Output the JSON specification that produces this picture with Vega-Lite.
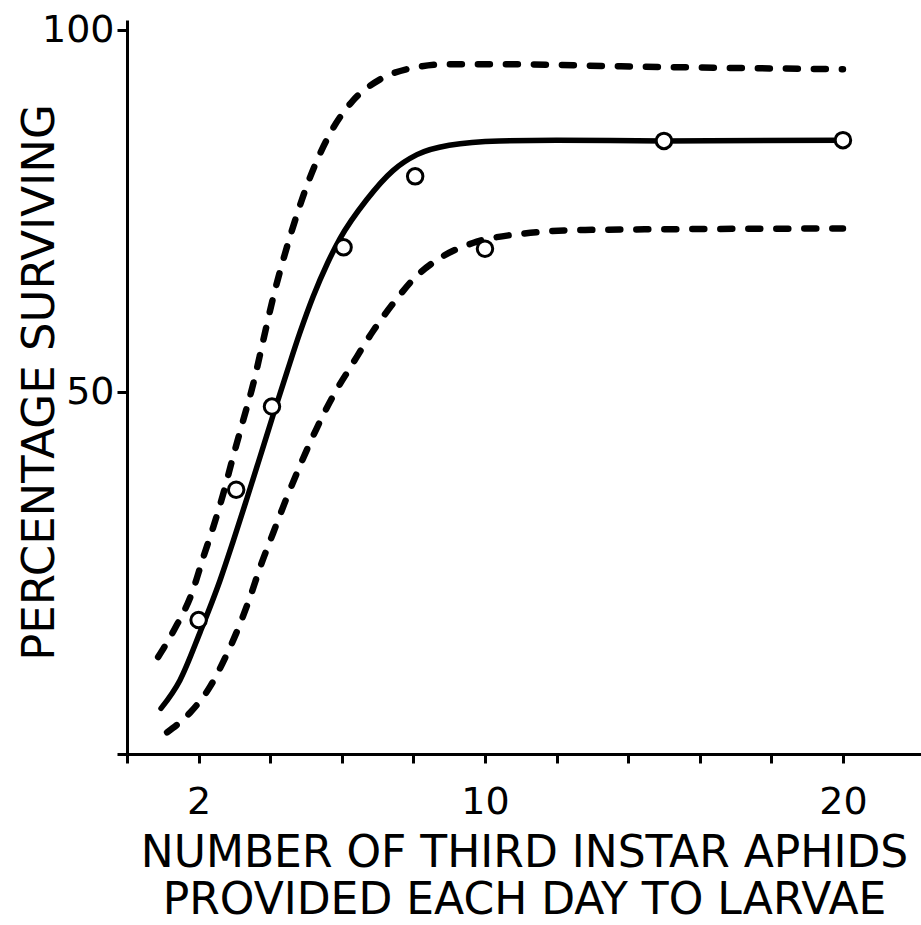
{
  "$schema": "https://vega.github.io/schema/vega-lite/v6.json",
  "autosize": "none",
  "width": 794,
  "height": 734,
  "padding": {"left": 127, "top": 20, "right": 0, "bottom": 171},
  "background": "white",
  "config": {"view": {"stroke": null}},
  "datasets": {
    "curves": [
      {"series": "fit", "x": 0.95, "y": 6.3},
      {"series": "fit", "x": 1.48, "y": 10.2},
      {"series": "fit", "x": 2.04, "y": 16.8},
      {"series": "fit", "x": 2.6, "y": 24.0},
      {"series": "fit", "x": 2.96, "y": 29.3},
      {"series": "fit", "x": 3.35, "y": 35.3},
      {"series": "fit", "x": 3.72, "y": 41.1},
      {"series": "fit", "x": 4.08, "y": 46.8},
      {"series": "fit", "x": 4.47, "y": 52.8},
      {"series": "fit", "x": 4.83, "y": 58.2},
      {"series": "fit", "x": 5.2, "y": 63.2},
      {"series": "fit", "x": 5.6, "y": 67.8},
      {"series": "fit", "x": 5.95, "y": 71.2},
      {"series": "fit", "x": 6.7, "y": 76.6},
      {"series": "fit", "x": 7.43, "y": 80.6},
      {"series": "fit", "x": 8.1, "y": 82.8},
      {"series": "fit", "x": 9.0, "y": 84.1},
      {"series": "fit", "x": 10.4, "y": 84.7},
      {"series": "fit", "x": 12, "y": 84.8},
      {"series": "fit", "x": 15, "y": 84.7},
      {"series": "fit", "x": 20, "y": 84.8},
      {"series": "upper", "x": 0.87, "y": 13.4},
      {"series": "upper", "x": 1.3, "y": 17.0},
      {"series": "upper", "x": 1.84, "y": 22.6},
      {"series": "upper", "x": 2.12, "y": 27.0},
      {"series": "upper", "x": 2.4, "y": 31.2},
      {"series": "upper", "x": 2.68, "y": 35.8},
      {"series": "upper", "x": 2.96, "y": 41.0},
      {"series": "upper", "x": 3.24, "y": 46.0},
      {"series": "upper", "x": 3.52, "y": 51.0},
      {"series": "upper", "x": 3.8, "y": 57.0},
      {"series": "upper", "x": 4.08, "y": 63.0},
      {"series": "upper", "x": 4.55, "y": 71.4},
      {"series": "upper", "x": 5.1, "y": 79.5},
      {"series": "upper", "x": 5.75, "y": 86.4},
      {"series": "upper", "x": 6.3, "y": 90.2},
      {"series": "upper", "x": 7.07, "y": 93.2},
      {"series": "upper", "x": 8.0, "y": 94.8},
      {"series": "upper", "x": 9.0, "y": 95.3},
      {"series": "upper", "x": 10.5, "y": 95.3},
      {"series": "upper", "x": 13.8, "y": 95.0},
      {"series": "upper", "x": 20.0, "y": 94.6},
      {"series": "lower", "x": 1.12, "y": 3.0},
      {"series": "lower", "x": 1.76, "y": 5.7},
      {"series": "lower", "x": 2.32, "y": 9.3},
      {"series": "lower", "x": 2.8, "y": 13.9},
      {"series": "lower", "x": 3.16, "y": 18.0},
      {"series": "lower", "x": 3.44, "y": 21.7},
      {"series": "lower", "x": 3.72, "y": 25.8},
      {"series": "lower", "x": 4.08, "y": 30.5},
      {"series": "lower", "x": 4.47, "y": 35.5},
      {"series": "lower", "x": 4.83, "y": 39.8},
      {"series": "lower", "x": 5.3, "y": 45.0},
      {"series": "lower", "x": 5.75, "y": 49.4},
      {"series": "lower", "x": 6.3, "y": 53.9},
      {"series": "lower", "x": 6.87, "y": 58.4},
      {"series": "lower", "x": 7.54, "y": 62.9},
      {"series": "lower", "x": 8.0, "y": 65.6},
      {"series": "lower", "x": 8.74, "y": 68.5},
      {"series": "lower", "x": 9.66, "y": 70.6},
      {"series": "lower", "x": 10.9, "y": 71.8},
      {"series": "lower", "x": 12.8, "y": 72.4},
      {"series": "lower", "x": 20.0, "y": 72.6}
    ],
    "observed": [
      {"x": 2, "y": 18.5},
      {"x": 3.05, "y": 36.5},
      {"x": 4.05, "y": 48.0},
      {"x": 6.05, "y": 70.0},
      {"x": 8.05, "y": 79.8},
      {"x": 10.0, "y": 69.8},
      {"x": 15, "y": 84.7},
      {"x": 20, "y": 84.8}
    ]
  },
  "encoding": {
    "x": {
      "field": "x",
      "type": "quantitative",
      "scale": {"domain": [0, 22.18], "nice": false, "zero": false},
      "axis": {
        "title": ["NUMBER OF THIRD INSTAR APHIDS", "PROVIDED EACH DAY TO LARVAE"],
        "titleFont": "DejaVu Sans",
        "titleFontSize": 44,
        "titleFontWeight": "normal",
        "titleColor": "black",
        "titleLineHeight": 47,
        "titlePadding": 10,
        "values": [0, 2, 4, 6, 8, 10, 12, 14, 16, 18, 20],
        "labelExpr": "datum.value == 2 || datum.value == 10 || datum.value == 20 ? datum.label : ''",
        "labelFont": "DejaVu Sans",
        "labelFontSize": 38,
        "labelColor": "black",
        "labelPadding": 20,
        "labelFlush": false,
        "labelOverlap": false,
        "tickSize": 9,
        "tickWidth": 3,
        "tickColor": "black",
        "domainColor": "black",
        "domainWidth": 3,
        "grid": false
      }
    },
    "y": {
      "field": "y",
      "type": "quantitative",
      "scale": {"domain": [0, 101.4], "nice": false, "zero": false},
      "axis": {
        "title": "PERCENTAGE SURVIVING",
        "titleFont": "DejaVu Sans",
        "titleFontSize": 45,
        "titleFontWeight": "normal",
        "titleColor": "black",
        "titleAngle": -90,
        "titleAlign": "center",
        "titleBaseline": "middle",
        "titleX": -88,
        "titleY": 362,
        "values": [0, 50, 100],
        "labelExpr": "datum.value == 0 ? '' : datum.label",
        "labelFont": "DejaVu Sans",
        "labelFontSize": 38,
        "labelColor": "black",
        "labelPadding": 3,
        "labelFlush": false,
        "labelOverlap": false,
        "tickSize": 10,
        "tickWidth": 3,
        "tickColor": "black",
        "domainColor": "black",
        "domainWidth": 3,
        "grid": false
      }
    }
  },
  "layer": [
    {
      "data": {"name": "curves"},
      "transform": [{"filter": "datum.series != 'fit'"}],
      "mark": {"type": "line", "interpolate": "monotone", "color": "black", "strokeWidth": 6.5, "strokeDash": [12, 16], "strokeCap": "round"},
      "encoding": {"detail": {"field": "series", "type": "nominal"}}
    },
    {
      "data": {"name": "curves"},
      "transform": [{"filter": "datum.series == 'fit'"}],
      "mark": {"type": "line", "interpolate": "monotone", "color": "black", "strokeWidth": 5.5, "strokeCap": "round"},
      "encoding": {}
    },
    {
      "data": {"name": "observed"},
      "mark": {"type": "point", "shape": "circle", "filled": false, "fill": "white", "fillOpacity": 1, "stroke": "black", "strokeWidth": 3, "size": 240, "opacity": 1},
      "encoding": {}
    }
  ]
}
